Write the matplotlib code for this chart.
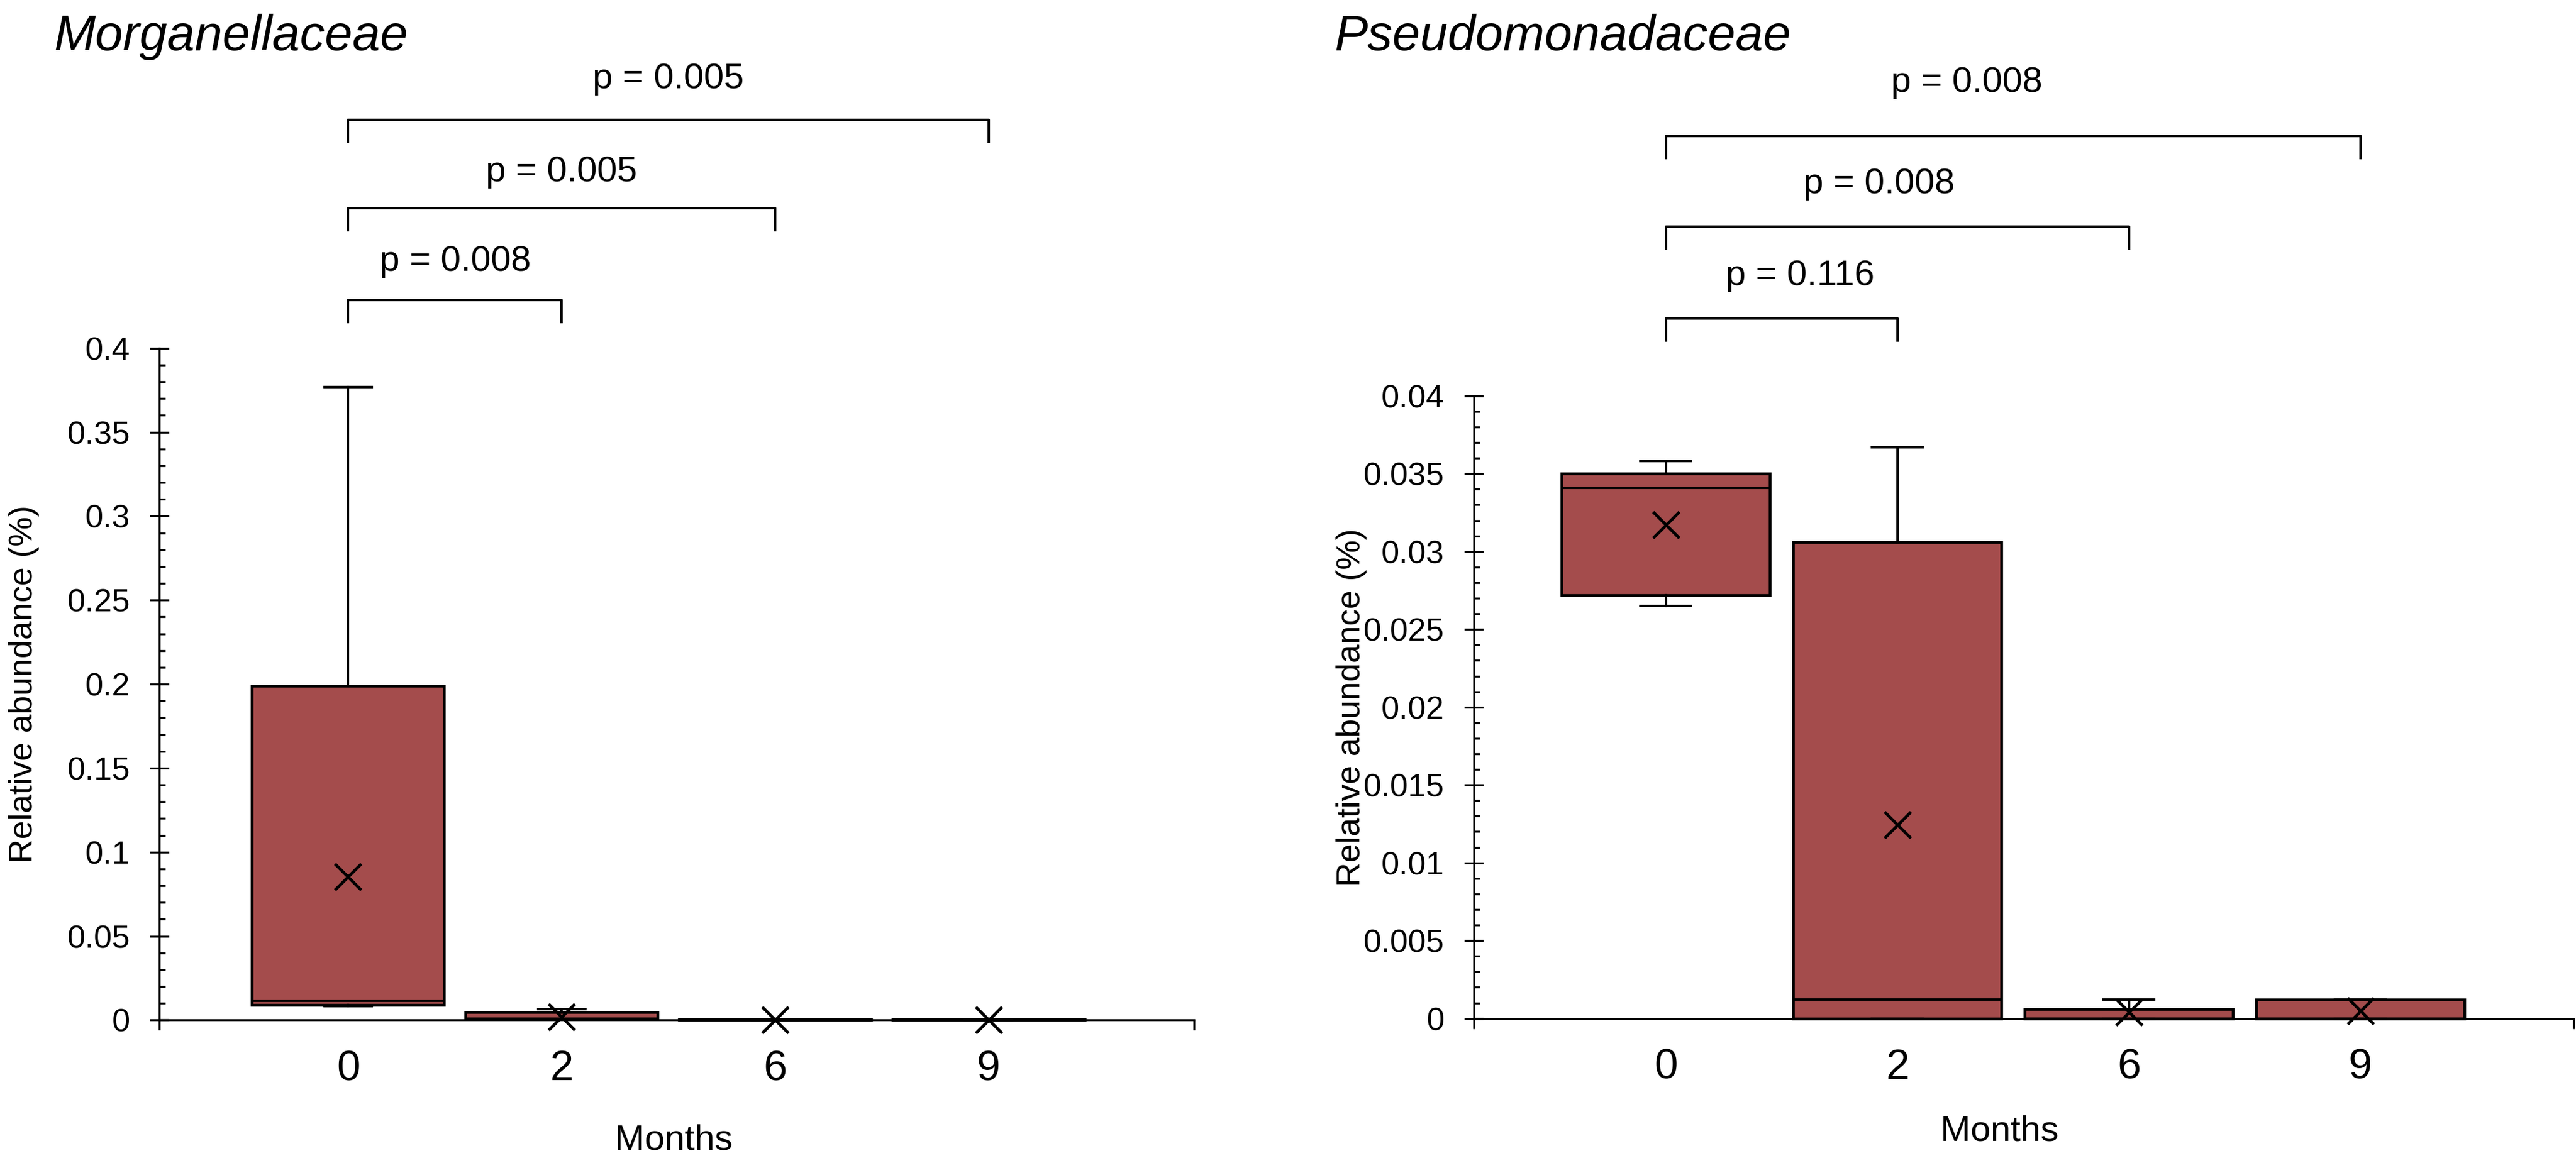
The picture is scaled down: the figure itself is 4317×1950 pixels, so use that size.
import matplotlib.pyplot as plt
import matplotlib.transforms as mtransforms
from matplotlib.ticker import MultipleLocator, FuncFormatter

plt.rcParams['font.family'] = ['Liberation Sans', 'DejaVu Sans']

months = ['0', '2', '6', '9']

# Morganellaceae (box stats)
morg_whislo = [0.0082, 0.0004, 0.0, 0.0]
morg_q1 = [0.0089, 0.0005, 0.0, 0.0]
morg_med = [0.0115, 0.0010, 0.0002, 0.0001]
morg_q3 = [0.199, 0.0049, 0.0006, 0.0004]
morg_whishi = [0.377, 0.0066, 0.0006, 0.0004]
morg_mean = [0.0855, 0.0020, 0.0002, 0.0001]
morg_pairs = [(0, 3), (0, 2), (0, 1)]
morg_p = ['p = 0.005', 'p = 0.005', 'p = 0.008']

# Pseudomonadaceae
pseu_whislo = [0.0265, 0.0, 0.0, 0.0]
pseu_q1 = [0.0272, 0.0, 0.0, 0.0]
pseu_med = [0.0341, 0.0012, 0.0, 0.0]
pseu_q3 = [0.0350, 0.0306, 0.0006, 0.0012]
pseu_whishi = [0.0358, 0.0367, 0.0012, 0.0012]
pseu_mean = [0.0317, 0.01245, 0.0004, 0.0005]
pseu_pairs = [(0, 3), (0, 2), (0, 1)]
pseu_p = ['p = 0.008', 'p = 0.008', 'p = 0.116']

BOX_COLOR = '#A44C4C'


def make_stats(whislo, q1, med, q3, whishi, mean):
    stats = []
    for i, m in enumerate(months):
        stats.append(dict(label=m, whislo=whislo[i], q1=q1[i], med=med[i],
                          q3=q3[i], whishi=whishi[i], mean=mean[i]))
    return stats


def draw_panel(fig, rect, stats, xlim, ymax, ymajor, yminor,
               title, title_x, ylabel_x, xlabel_x, pairs, ptexts,
               text_y, text_dx, bracket_y):
    ax = fig.add_axes(rect)
    pos = [1, 2, 3, 4]
    art = ax.bxp(stats, positions=pos, widths=0.9, patch_artist=True,
                 showmeans=True, showfliers=False, capwidths=0.22,
                 boxprops=dict(facecolor=BOX_COLOR, edgecolor='black', linewidth=1.1),
                 medianprops=dict(color='black', linewidth=1.0),
                 whiskerprops=dict(color='black', linewidth=1.0),
                 capprops=dict(color='black', linewidth=1.0),
                 meanprops=dict(marker='x', markeredgecolor='black',
                                markersize=10.5, markeredgewidth=1.2))
    for group in art.values():
        for a in group:
            a.set_clip_on(False)

    ax.set_xlim(*xlim)
    ax.set_ylim(0, ymax)
    ax.spines['top'].set_visible(False)
    ax.spines['right'].set_visible(False)
    ax.spines['left'].set_linewidth(0.8)
    ax.spines['bottom'].set_linewidth(0.8)

    ax.yaxis.set_major_locator(MultipleLocator(ymajor))
    ax.yaxis.set_minor_locator(MultipleLocator(yminor))
    ax.yaxis.set_major_formatter(FuncFormatter(lambda v, p: '{:g}'.format(round(v, 6))))
    ax.tick_params(axis='y', which='major', direction='inout', length=7.5,
                   width=0.8, labelsize=13, pad=8)
    ax.tick_params(axis='y', which='minor', direction='in', length=2.5, width=0.8)

    ax.set_xticks(pos, months)
    ax.set_xticks(list(xlim), minor=True)
    ax.tick_params(axis='x', which='major', length=0, labelsize=17, pad=12)
    ax.tick_params(axis='x', which='minor', direction='out', length=4, width=0.8)

    ax.set_xlabel('Months', fontsize=14.5)
    ax.xaxis.set_label_coords(xlabel_x, -0.155)
    ax.set_ylabel('Relative abundance (%)', fontsize=13.5)
    ax.yaxis.set_label_coords(ylabel_x, 0.5)

    fig.text(title_x, 0.968, title, fontsize=20, style='italic',
             ha='left', va='center')

    trans = mtransforms.blended_transform_factory(ax.transData, fig.transFigure)
    for (a, b), txt, ty, dx, by in zip(pairs, ptexts, text_y, text_dx, bracket_y):
        x0, x1 = pos[a], pos[b]
        ax.plot([x0, x0, x1, x1], [by - 0.019, by, by, by - 0.019],
                transform=trans, clip_on=False, color='black', lw=1.0)
        ax.text((x0 + x1) / 2 + dx, ty, txt, transform=trans, ha='center',
                va='center', fontsize=14.5)
    return ax


fig = plt.figure(figsize=(4317 / 300, 1950 / 300), dpi=300)

draw_panel(fig, [0.0619, 0.1229, 0.4017, 0.5777],
           make_stats(morg_whislo, morg_q1, morg_med, morg_q3, morg_whishi, morg_mean),
           (0.116, 4.963), 0.4, 0.05, 0.01,
           'Morganellaceae', 0.021, -0.116, 0.497,
           morg_pairs, morg_p, [0.932, 0.852, 0.775], [0.0, 0.0, 0.0],
           [0.897, 0.821, 0.742])

draw_panel(fig, [0.5721, 0.1243, 0.4269, 0.5353],
           make_stats(pseu_whislo, pseu_q1, pseu_med, pseu_q3, pseu_whishi, pseu_mean),
           (0.17, 4.92), 0.04, 0.005, 0.001,
           'Pseudomonadaceae', 0.518, -0.097, 0.478,
           pseu_pairs, pseu_p, [0.929, 0.842, 0.763], [-0.2, -0.08, 0.08],
           [0.883, 0.805, 0.726])

fig.savefig('out.png', dpi=300)
